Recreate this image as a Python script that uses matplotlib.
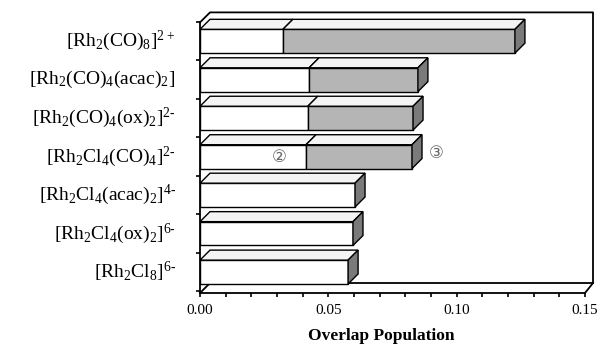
import matplotlib
matplotlib.use('Agg')
import matplotlib.pyplot as plt
from matplotlib.patches import Polygon
from matplotlib.ticker import MultipleLocator

plt.rcParams['font.family'] = ['Liberation Serif', 'DejaVu Sans']
plt.rcParams['mathtext.fontset'] = 'custom'
plt.rcParams['mathtext.rm'] = 'Liberation Serif'
plt.rcParams['mathtext.default'] = 'regular'

# complexes, top to bottom as in the figure
labels = [r'[Rh$_2$(CO)$_8$]$^{2+}$',
          r'[Rh$_2$(CO)$_4$(acac)$_2$]',
          r'[Rh$_2$(CO)$_4$(ox)$_2$]$^{2\text{-}}$',
          r'[Rh$_2$Cl$_4$(CO)$_4$]$^{2\text{-}}$',
          r'[Rh$_2$Cl$_4$(acac)$_2$]$^{4\text{-}}$',
          r'[Rh$_2$Cl$_4$(ox)$_2$]$^{6\text{-}}$',
          r'[Rh$_2$Cl$_8$]$^{6\text{-}}$']
# overlap population, first part (white) and second part (grey)
part1 = [0.0323, 0.0425, 0.0420, 0.0413, 0.0604, 0.0596, 0.0577]
part2 = [0.0904, 0.0424, 0.0410, 0.0413, 0.0, 0.0, 0.0]

fig = plt.figure(figsize=(5.98, 3.45), dpi=100)
ax = fig.add_axes([200/598, 52/345, 385/598, 271/345])
xmax = 0.15
ax.set_xlim(0, xmax)
ax.set_ylim(-0.545, 6.49)

# depth of the fake 3d effect, in data units (about 10 px each way)
dx = 10 * xmax / 385
dy = 10 / 38.5
h = 0.62

n = len(labels)
ypos = [n - 1 - i for i in range(n)]

def face(pts, fc, z=3):
    ax.add_patch(Polygon(pts, closed=True, facecolor=fc, edgecolor='black',
                         linewidth=1.0, zorder=z, clip_on=False))

for y, a, b in zip(ypos, part1, part2):
    bot, top = y - h / 2, y + h / 2
    ax.barh(y, a, height=h, color='white', edgecolor='black', linewidth=1.0, zorder=3)
    if b > 0:
        ax.barh(y, b, left=a, height=h, color='#b5b5b5', edgecolor='black', linewidth=1.0, zorder=3)
    # top faces
    face([(0, top), (a, top), (a + dx, top + dy), (dx, top + dy)], '#f4f4f4')
    end = a + b
    if b > 0:
        face([(a, top), (end, top), (end + dx, top + dy), (a + dx, top + dy)], '#f4f4f4')
    # side face
    face([(end, bot), (end + dx, bot + dy), (end + dx, top + dy), (end, top)], '#7a7a7a')

# back wall and floor outline
y0, y1 = ax.get_ylim()
lk = dict(color='black', linewidth=1.3, clip_on=False, zorder=2)
ax.plot([0, dx, xmax + dx * 0.8, xmax + dx * 0.8], [y1, y1 + dy, y1 + dy, y0 + dy], **lk)
ax.plot([dx, xmax + dx * 0.8], [y0 + dy, y0 + dy], **lk)
ax.plot([0, dx], [y0, y0 + dy], **lk)
ax.plot([xmax, xmax + dx * 0.8], [y0, y0 + dy], **lk)

for s in ['top', 'right']:
    ax.spines[s].set_visible(False)
for s in ['left', 'bottom']:
    ax.spines[s].set_linewidth(1.3)

ax.xaxis.set_major_locator(MultipleLocator(0.05))
ax.xaxis.set_minor_locator(MultipleLocator(0.01))
ax.xaxis.set_major_formatter(lambda v, p: f'{v:.2f}')
ax.tick_params(axis='x', which='both', length=3, width=1.2, labelsize=11, pad=5)
ax.set_yticks([y + 0.5 for y in range(-1, n)])
ax.set_yticklabels([])
ax.tick_params(axis='y', length=3, width=1.2)

for y, lab in zip(ypos, labels):
    ax.text(-0.0095, y, lab, ha='right', va='center', fontsize=14, clip_on=False)

ax.text(0.031, 3, '②', ha='center', va='center', fontsize=12, color='#666666',
        family='DejaVu Sans', zorder=5)
ax.text(0.092, 3.1, '③', ha='center', va='center', fontsize=12, color='#666666',
        family='DejaVu Sans', zorder=5)

fig.text(381/598, 1/345, 'Overlap Population', ha='center', va='bottom',
         fontsize=12.5, fontweight='bold')

fig.savefig('out.png', dpi=100)
